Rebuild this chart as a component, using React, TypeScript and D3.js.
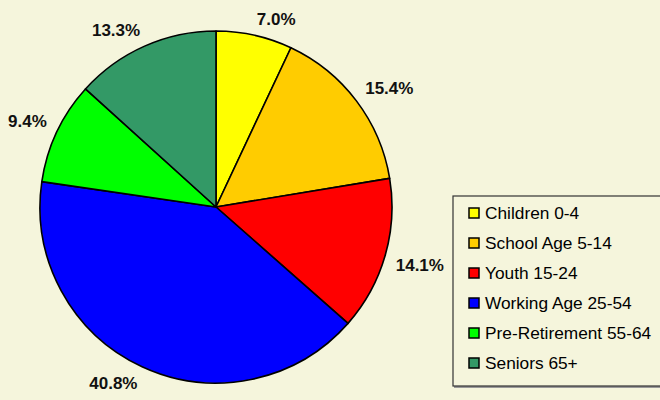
import React from "react";
import * as d3 from "d3";

const categories = [
  "Children 0-4",
  "School Age 5-14",
  "Youth 15-24",
  "Working Age 25-54",
  "Pre-Retirement 55-64",
  "Seniors 65+",
];
const values = [7.0, 15.4, 14.1, 40.8, 9.4, 13.3];
const labels = ["7.0%", "15.4%", "14.1%", "40.8%", "9.4%", "13.3%"];
const colors = ["#FFFF00", "#FFCC00", "#FF0000", "#0000FF", "#00FF00", "#339966"];

const W = 660;
const H = 400;
const BG = "#F5F5DC";

export default function App() {
  const cx = 216;
  const cy = 207;
  const r = 176;
  const labelFont = 17;
  const capH = labelFont * 0.716;
  const pie = d3.pie<number>().sort(null).value((d) => d)(values);
  const arc = d3.arc<d3.PieArcDatum<number>>().innerRadius(0).outerRadius(r);

  const legendX = 453;
  const legendY = 196;
  const legendW = 215;
  const legendH = 190;
  const rowY = d3
    .scaleBand<number>()
    .domain(d3.range(categories.length))
    .range([legendY + 2, legendY + 2 + 30 * categories.length]);

  return (
    <svg
      width={W}
      height={H}
      style={{ position: "absolute", left: 0, top: 0, display: "block" }}
      fontFamily="'Liberation Sans', Arial, sans-serif"
    >
      <rect x={0} y={0} width={W} height={H} fill={BG} />
      <g transform={`translate(${cx},${cy})`}>
        {pie.map((p, i) => (
          <path key={i} d={arc(p) || ""} fill={colors[i]} stroke="#000" strokeWidth={1.6} strokeLinejoin="round" />
        ))}
        {pie.map((p, i) => {
          const a = (p.startAngle + p.endAngle) / 2;
          const R = r + 11;
          const px = R * Math.sin(a);
          const py = -R * Math.cos(a);
          const anchor = Math.sin(a) >= 0 ? "start" : "end";
          const baseline = Math.cos(a) >= 0 ? py : py + capH;
          return (
            <text
              key={"l" + i}
              x={px}
              y={baseline}
              textAnchor={anchor}
              fontWeight="bold"
              fontSize={labelFont}
              fill="#111"
            >
              {labels[i]}
            </text>
          );
        })}
      </g>
      <rect x={legendX + 1} y={legendY + 2} width={legendW} height={legendH} fill="#999" />
      <rect x={legendX} y={legendY} width={legendW} height={legendH} fill={BG} stroke="#333" strokeWidth={1.2} />
      {categories.map((c, i) => {
        const y = (rowY(i) as number) + rowY.bandwidth() / 2;
        return (
          <g key={c}>
            <rect x={469} y={y - 5} width={10} height={10} fill={colors[i]} stroke="#000" strokeWidth={1.5} />
            <text x={485} y={y} dominantBaseline="central" fontSize={17.3} fill="#000">
              {c}
            </text>
          </g>
        );
      })}
    </svg>
  );
}
